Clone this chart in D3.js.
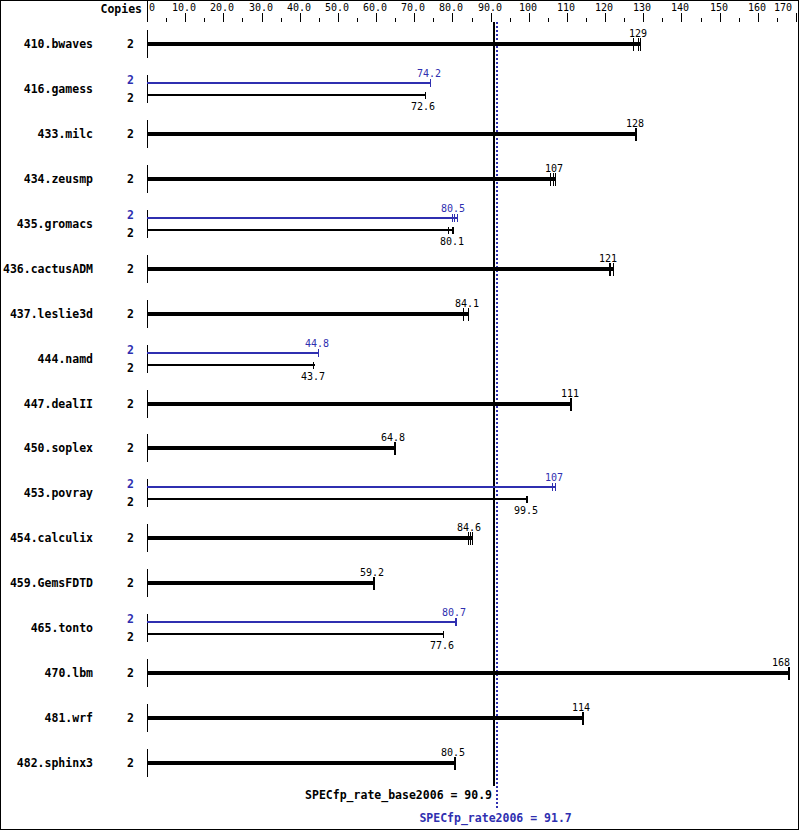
<!DOCTYPE html>
<html><head><meta charset="utf-8">
<script src="https://cdn.jsdelivr.net/npm/d3@7"></script>
<style>
html,body{margin:0;padding:0;background:#fff;}
svg{display:block;}
text{font-family:"DejaVu Sans Mono",monospace;}
</style></head>
<body>
<script>
// ---------- data ----------
const benchmarks = ["410.bwaves","416.gamess","433.milc","434.zeusmp","435.gromacs","436.cactusADM","437.leslie3d","444.namd","447.dealII","450.soplex","453.povray","454.calculix","459.GemsFDTD","465.tonto","470.lbm","481.wrf","482.sphinx3"];
const baseCopies = [2,2,2,2,2,2,2,2,2,2,2,2,2,2,2,2,2];
const peakCopies = [null,2,null,null,2,null,null,2,null,null,2,null,null,2,null,null,null];
const baseValues = [129,72.6,128,107,80.1,121,84.1,43.7,111,64.8,99.5,84.6,59.2,77.6,168,114,80.5];
const peakValues = [null,74.2,null,null,80.5,null,null,44.8,null,null,107,null,null,80.7,null,null,null];
const baseRuns = [[127.4,128.6,129.2],[72.7],[127.9,128.1],[105.6,106.3,107.0],[78.8,80.0,80.1],[121.0,121.3,122.0],[82.9,84.0,84.1],[43.6],[110.9,111.1],[64.7,64.9],[99.2,99.4,99.6],[84.2,84.6,85.0],[59.2,59.35],[77.6],[167.9,168.1],[114.0,114.15],[80.4,80.55]];
const peakRuns = [null,[74.05,74.25],null,null,[80.0,80.5,81.1],null,null,[44.7,44.8],null,null,[106.1,106.8,107.0],null,null,[80.7,80.85],null,null,null];
const tickValues = [0,10,20,30,40,50,60,70,80,90,100,110,120,130,140,150,160,170];
const tickLabels = ["0","10.0","20.0","30.0","40.0","50.0","60.0","70.0","80.0","90.0","100","110","120","130","140","150","160","170"];
const minorTicks = [5,15,25,35,45,55,65,75,85,95,105,115,125,135,145,155,165];
const baseMetricName = "SPECfp_rate_base2006";
const baseMetric = 90.9;
const peakMetricName = "SPECfp_rate2006";
const peakMetric = 91.7;

// ---------- layout ----------
const W = 799, H = 831;
const BLUE = "#2f2fb0";
const fmt = d3.format(".3r");
const x = d3.scaleLinear().domain([0,170]).range([147,796]);
const y = d3.scalePoint().domain(benchmarks).range([44, 44 + 16*44.94]);
const px = v => Math.round(x(v));

const svg = d3.select("body").append("svg").attr("width",W).attr("height",H);
svg.append("rect").attr("x",0).attr("y",0).attr("width",W).attr("height",H).attr("fill","#fff");

// top axis
const ax = svg.append("g").attr("shape-rendering","crispEdges");
ax.append("line").attr("x1",px(0)+0.5).attr("x2",px(0)+0.5).attr("y1",0).attr("y2",22).attr("stroke","#000");
ax.selectAll("line.maj").data(tickValues.slice(1)).join("line")
  .attr("x1",d=>px(d)+0.5).attr("x2",d=>px(d)+0.5).attr("y1",13).attr("y2",22).attr("stroke","#000");
ax.selectAll("line.min").data(minorTicks).join("line")
  .attr("x1",d=>px(d)+0.5).attr("x2",d=>px(d)+0.5).attr("y1",18).attr("y2",22).attr("stroke","#000");
ax.selectAll("text.tl").data(tickValues).join("text")
  .attr("font-size",10).attr("y",11)
  .attr("x",(d,i)=> i===0 ? px(d)+2 : (i===tickValues.length-1 ? px(d)-4 : px(d)-1))
  .attr("text-anchor",(d,i)=> i===0 ? "start" : (i===tickValues.length-1 ? "end" : "middle"))
  .text((d,i)=>tickLabels[i]);
svg.append("text").attr("x",142).attr("y",12.5).attr("text-anchor","end")
  .attr("font-size",11.5).attr("font-weight","bold").text("Copies");

// reference lines
const xb = x(baseMetric), xp = x(peakMetric);
svg.append("line").attr("x1",xb).attr("x2",xb).attr("y1",22).attr("y2",786)
  .attr("stroke","#000").attr("stroke-width",2).attr("shape-rendering","crispEdges");
svg.append("line").attr("x1",xp).attr("x2",xp).attr("y1",22).attr("y2",808)
  .attr("stroke",BLUE).attr("stroke-width",2).attr("stroke-dasharray","2,2").attr("shape-rendering","crispEdges");
svg.append("text").attr("x",xb-2).attr("y",799).attr("text-anchor","end")
  .attr("font-size",11.5).attr("font-weight","bold").attr("fill","#000")
  .text(baseMetricName + " = " + baseMetric);
svg.append("text").attr("x",xp-1.5).attr("y",821.5).attr("text-anchor","middle")
  .attr("font-size",11.5).attr("font-weight","bold").attr("fill",BLUE)
  .text(peakMetricName + " = " + peakMetric);

// rows
const labelX = v => Math.min(px(v)-1, 781);
benchmarks.forEach((b,i)=>{
  const c = Math.round(y(b));
  const g = svg.append("g").attr("shape-rendering","crispEdges");
  // name
  g.append("text").attr("x",93).attr("y",c+4).attr("text-anchor","end")
    .attr("font-size",11.5).attr("font-weight","bold").text(b);
  // row axis segment
  g.append("line").attr("x1",px(0)+0.5).attr("x2",px(0)+0.5).attr("y1",c-14).attr("y2",c+14).attr("stroke","#000");
  const bv = baseValues[i], br = baseRuns[i];
  if (peakValues[i] == null) {
    const end = Math.max(bv, d3.max(br));
    g.append("rect").attr("x",px(0)).attr("y",c-2).attr("width",px(end)-px(0)+1).attr("height",4).attr("fill","#000");
    br.forEach(r=>{
      g.append("line").attr("x1",px(r)+0.5).attr("x2",px(r)+0.5).attr("y1",c-6).attr("y2",c+7).attr("stroke","#000");
    });
    g.append("text").attr("x",labelX(bv)).attr("y",c-7).attr("text-anchor","middle").attr("font-size",10).text(fmt(bv));
    g.append("text").attr("x",134).attr("y",c+4).attr("text-anchor","end")
      .attr("font-size",11.5).attr("font-weight","bold").text(baseCopies[i]);
  } else {
    const pv = peakValues[i], pr = peakRuns[i];
    const cp = c-6, cb = c+6;
    const pend = Math.max(pv, d3.max(pr)), bend = Math.max(bv, d3.max(br));
    g.append("rect").attr("x",px(0)).attr("y",cp-1).attr("width",px(pend)-px(0)+1).attr("height",2).attr("fill",BLUE);
    pr.forEach(r=>{
      g.append("line").attr("x1",px(r)+0.5).attr("x2",px(r)+0.5).attr("y1",cp-4).attr("y2",cp+4).attr("stroke",BLUE);
    });
    g.append("rect").attr("x",px(0)).attr("y",cb-1).attr("width",px(bend)-px(0)+1).attr("height",2).attr("fill","#000");
    br.forEach(r=>{
      g.append("line").attr("x1",px(r)+0.5).attr("x2",px(r)+0.5).attr("y1",cb-3).attr("y2",cb+4).attr("stroke","#000");
    });
    g.append("text").attr("x",labelX(pv)).attr("y",c-12.5).attr("text-anchor","middle").attr("font-size",10).attr("fill",BLUE).text(fmt(pv));
    g.append("text").attr("x",labelX(bv)).attr("y",c+21).attr("text-anchor","middle").attr("font-size",10).attr("fill","#000").text(fmt(bv));
    g.append("text").attr("x",134).attr("y",c-5).attr("text-anchor","end")
      .attr("font-size",11.5).attr("font-weight","bold").attr("fill",BLUE).text(peakCopies[i]);
    g.append("text").attr("x",134).attr("y",c+13).attr("text-anchor","end")
      .attr("font-size",11.5).attr("font-weight","bold").attr("fill","#000").text(baseCopies[i]);
  }
});

// border
svg.append("rect").attr("x",0.5).attr("y",0.5).attr("width",W-1).attr("height",H-2)
  .attr("fill","none").attr("stroke","#000").attr("shape-rendering","crispEdges");
</script>
</body></html>
